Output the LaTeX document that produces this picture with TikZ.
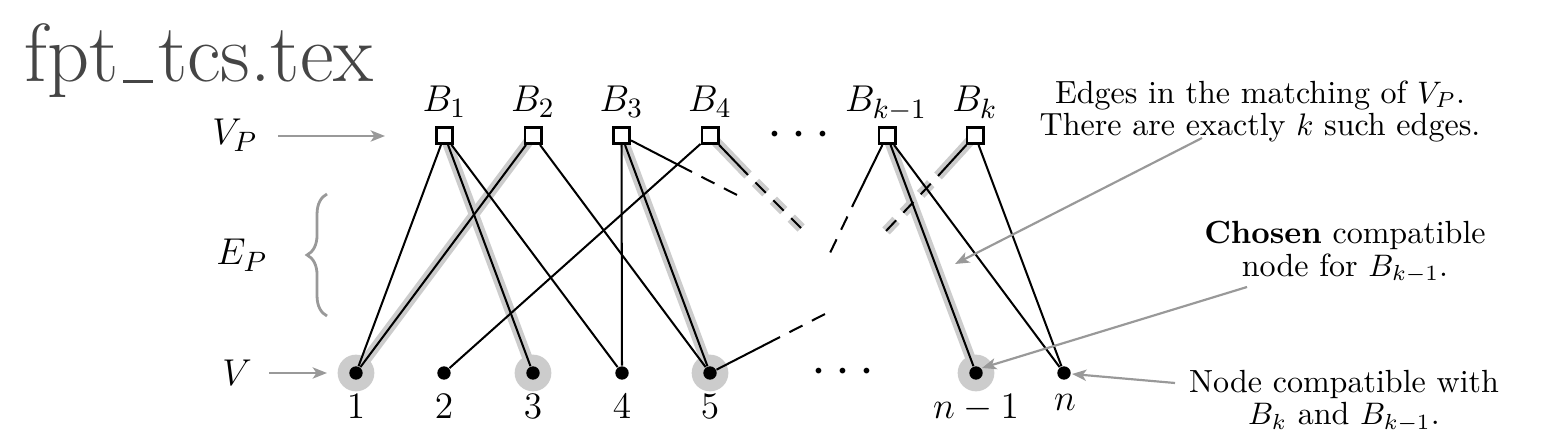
\documentclass[tikz,border=0pt]{standalone}
\usetikzlibrary{arrows.meta,decorations.pathreplacing}
\definecolor{hl}{gray}{0.8}
\definecolor{titlegray}{gray}{0.27}
\definecolor{annogray}{gray}{0.6}
\pgfdeclarelayer{bg}
\pgfsetlayers{bg,main}
\newcommand{\lowbar}{\leavevmode\kern.06em\rule[-0.2pt]{0.36em}{0.9pt}\kern.06em}
\begin{document}
\begin{tikzpicture}[x=0.0112868cm,y=-0.0112868cm,
  sq/.style={draw=black,line width=0.9pt,fill=white,rectangle,minimum size=5.2pt,inner sep=0pt},
  vdot/.style={circle,fill=black,minimum size=4.3pt,inner sep=0pt},
  hlc/.style={circle,fill=hl,minimum size=11.8pt,inner sep=0pt},
  ln/.style={line width=0.65pt,black},
  hlband/.style={line width=3.3pt,hl},
  dsh/.style={dash pattern=on 4.7pt off 3.4pt,dash phase=4.7pt},
  lbl/.style={font=\fontsize{12.4pt}{14pt}\selectfont,inner sep=0pt},
  ann/.style={align=center,inner sep=0pt,font=\fontsize{10.3pt}{10.3pt}\selectfont},
  garrow/.style={draw=annogray,line width=0.7pt,-{Stealth[length=4.6pt,width=3.6pt,inset=1.2pt]}},
  gbrace/.style={draw=annogray,line width=0.9pt,decorate,decoration={brace,amplitude=6.4pt}}
]
\useasboundingbox (0,0) rectangle (1545,444);

% title
\node[font=\fontsize{26.5pt}{30pt}\selectfont,text=titlegray,anchor=base,inner sep=0pt] (title) at (199,82) {fpt\lowbar tcs.tex};

% square nodes
\node[sq] (B1) at (444.5,135.5) {};
\node[sq] (B2) at (533,135.5) {};
\node[sq] (B3) at (621.5,135.5) {};
\node[sq] (B4) at (710,135.5) {};
\node[sq] (Bk1) at (887,135.5) {};
\node[sq] (Bk) at (975,135.5) {};

% vertex dots
\node[vdot] (v1) at (356,373) {};
\node[vdot] (v2) at (444,373) {};
\node[vdot] (v3) at (533,373) {};
\node[vdot] (v4) at (622,373) {};
\node[vdot] (v5) at (710,373) {};
\node[vdot] (vn1) at (976,373) {};
\node[vdot] (vn) at (1064,373) {};

% free ends of partial edges
\coordinate (d3a) at (692,172);  \coordinate (d3b) at (737,195);
\coordinate (d4a) at (748,175);  \coordinate (d4b) at (801,228);
\coordinate (dk1a) at (852,207); \coordinate (dk1b) at (830,253);
\coordinate (dka) at (938,176);  \coordinate (dkb) at (886,231);
\coordinate (d5a) at (780,337);  \coordinate (d5b) at (825,314);

% highlights
\begin{pgfonlayer}{bg}
  \node[hlc] (h1) at (v1) {};
  \node[hlc] (h3) at (v3) {};
  \node[hlc] (h5) at (v5) {};
  \node[hlc] (hn1) at (vn1) {};
  \draw[hlband] (B1.center) -- (v3.center);
  \draw[hlband] (B2.center) -- (v1.center);
  \draw[hlband] (B3.center) -- (v5.center);
  \draw[hlband] (Bk1.center) -- (vn1.center);
  \draw[hlband] (B4.center) -- (d4a);
  \draw[hlband,dsh] (d4a) -- (d4b);
  \draw[hlband] (Bk.center) -- (dka);
  \draw[hlband,dsh] (dka) -- (dkb);
\end{pgfonlayer}

% edges
\draw[ln] (B1) -- (v1);
\draw[ln] (B1) -- (v3);
\draw[ln] (B1) -- (v4);
\draw[ln] (B2) -- (v1);
\draw[ln] (B2) -- (v5);
\draw[ln] (B3) -- (v4);
\draw[ln] (B3) -- (v5);
\draw[ln] (B3) -- (d3a);
\draw[ln,dsh] (d3a) -- (d3b);
\draw[ln] (B4) -- (v2);
\draw[ln] (B4) -- (d4a);
\draw[ln,dsh] (d4a) -- (d4b);
\draw[ln] (Bk1) -- (dk1a);
\draw[ln,dsh] (dk1a) -- (dk1b);
\draw[ln] (Bk1) -- (vn1);
\draw[ln] (Bk1) -- (vn);
\draw[ln] (Bk) -- (vn);
\draw[ln] (Bk) -- (dka);
\draw[ln,dsh] (dka) -- (dkb);
\draw[ln] (v5) -- (d5a);
\draw[ln,dsh] (d5a) -- (d5b);

% labels of squares
\node[lbl,anchor=base] (lB1) at (444.5,112) {$B_1$};
\node[lbl,anchor=base] (lB2) at (533,112) {$B_2$};
\node[lbl,anchor=base] (lB3) at (621.5,112) {$B_3$};
\node[lbl,anchor=base] (lB4) at (710,112) {$B_4$};
\node[lbl,anchor=base] (lBk1) at (886,112) {$B_{k-1}$};
\node[lbl,anchor=base] (lBk) at (975,112) {$B_k$};

% labels of vertices
\node[lbl,anchor=north] (l1) at (356,394) {$1$};
\node[lbl,anchor=north] (l2) at (444,394) {$2$};
\node[lbl,anchor=north] (l3) at (533,394) {$3$};
\node[lbl,anchor=north] (l4) at (622,394) {$4$};
\node[lbl,anchor=north] (l5) at (710,394) {$5$};
\node[lbl,anchor=north] (ln1) at (976,394) {$n-1$};
\node[lbl,anchor=north] (lnn) at (1065,394) {$n$};

% ellipses
\node[font=\fontsize{16pt}{18pt}\selectfont,anchor=base,inner sep=0pt] (tdots) at (799,147.5) {$\cdots$};
\node[font=\fontsize{16pt}{18pt}\selectfont,anchor=base,inner sep=0pt] (bdots) at (843,384.5) {$\cdots$};

% left side labels
\node[font=\fontsize{13pt}{15pt}\selectfont,inner sep=0pt,anchor=base] (VP) at (235,145) {$V_P$};
\node[font=\fontsize{13pt}{15pt}\selectfont,inner sep=0pt,anchor=base] (EP) at (242,265) {$E_P$};
\node[font=\fontsize{13pt}{15pt}\selectfont,inner sep=0pt,anchor=base] (V) at (237,386) {$V$};
\coordinate (VPt) at (385,136);
\coordinate (Vt) at (327,373);
\draw[garrow] (278,136) -- (VPt);
\draw[garrow] (269,373) -- (Vt);
\coordinate (EPb) at (327,316);
\coordinate (EPt) at (327,194);
\draw[gbrace] (EPb) -- (EPt);

% annotations
\node[ann,anchor=north] (ann1) at (1260,80) {Edges in the matching of $V_P$.\\There are exactly $k$ such edges.};
\node[ann,anchor=north] (ann2) at (1345,221) {\textbf{Chosen} compatible\\node for $B_{k-1}$.};
\node[ann,anchor=north] (ann3) at (1344,370) {Node compatible with\\$B_k$ and $B_{k-1}$.};
\coordinate (a1s) at (1202,138); \coordinate (a1t) at (955,264);
\coordinate (a2s) at (1247,287); \coordinate (a2t) at (982,368);
\coordinate (a3s) at (1175,383); \coordinate (a3t) at (1072,374);
\draw[garrow] (a1s) -- (a1t);
\draw[garrow] (a2s) -- (a2t);
\draw[garrow] (a3s) -- (a3t);
\end{tikzpicture}
\end{document}
